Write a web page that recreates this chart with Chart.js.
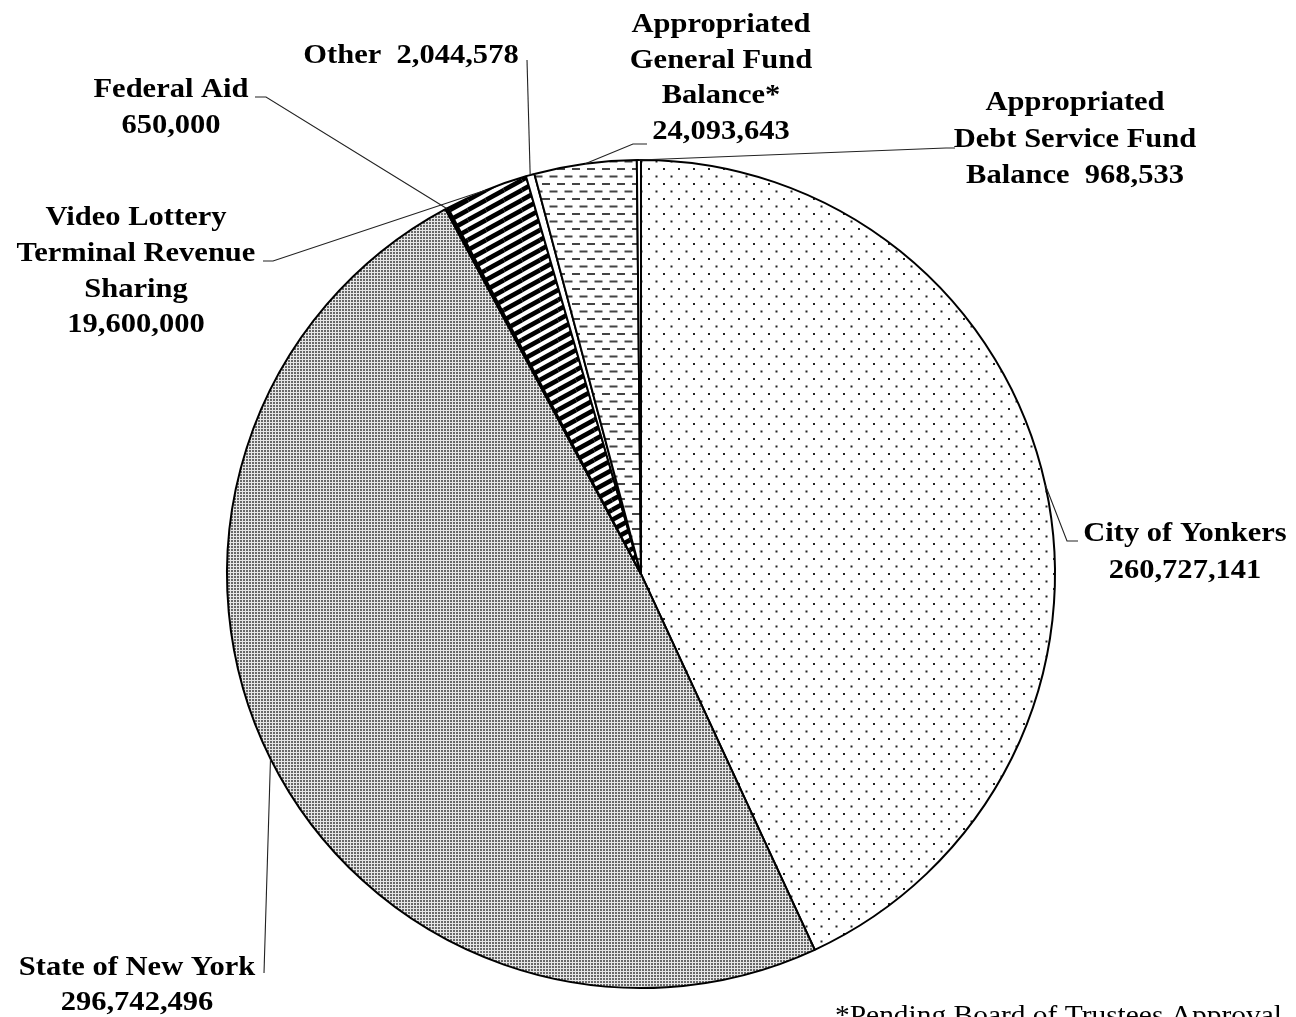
<!DOCTYPE html>
<html>
<head>
<meta charset="utf-8">
<script src="https://cdn.jsdelivr.net/npm/chart.js@4.4.1/dist/chart.umd.min.js"></script>
<style>
  body { margin: 0; background: #fff; }
  canvas { display: block; }
</style>
</head>
<body>
<canvas id="pie" width="1296" height="1017"></canvas>
<script>
// revenue sources, clockwise from 12 o'clock
const categories = [
    "City of Yonkers",
    "State of New York",
    "Federal Aid",
    "Video Lottery Terminal Revenue Sharing",
    "Other",
    "Appropriated General Fund Balance*",
    "Appropriated Debt Service Fund Balance"
];
const amounts = [260727141, 296742496, 650000, 19600000, 2044578, 24093643, 968533];
const footnote = "*Pending Board of Trustees Approval";

// label layout: text lines ({v} = amount), centre x, baselines, leader points from the text
const labelLayout = [
    { lines: ["City of Yonkers", "{v}"], cx: 1185, ys: [541, 578], leader: [[1078, 541], [1067, 541]] },
    { lines: ["State of New York", "{v}"], cx: 137, ys: [975, 1010], leader: [[264, 973]] },
    { lines: ["Federal Aid", "{v}"], cx: 171, ys: [97, 133], leader: [[255, 97], [266, 97]] },
    { lines: ["Video Lottery", "Terminal Revenue", "Sharing", "{v}"], cx: 136, ys: [225, 261, 297, 332], leader: [[263, 261], [273, 261]] },
    { lines: ["Other  {v}"], cx: 411, ys: [63], leader: [[527, 60]] },
    { lines: ["Appropriated", "General Fund", "Balance*", "{v}"], cx: 721, ys: [32, 67.5, 103, 138.5], leader: [[647, 144], [633, 144]] },
    { lines: ["Appropriated", "Debt Service Fund", "Balance  {v}"], cx: 1075, ys: [110, 146.5, 183], leader: [[955, 148], [946, 148]] }
];

function makePattern(w, h, draw) {
    const c = document.createElement("canvas");
    c.width = w;
    c.height = h;
    const g = c.getContext("2d");
    g.fillStyle = "#fff";
    g.fillRect(0, 0, w, h);
    draw(g);
    return document.getElementById("pie").getContext("2d").createPattern(c, "repeat");
}

const sparseDots = makePattern(15, 15, g => {
    g.fillStyle = "#222";
    g.fillRect(3, 3, 2, 2);
    g.fillRect(10.5, 10.5, 2, 2);
});

const denseDots = makePattern(3, 3, g => {
    g.fillStyle = "#e6e6e6";
    g.fillRect(0, 0, 3, 3);
    g.fillStyle = "#686868";
    g.fillRect(0, 0, 2, 2);
});

const stripes = makePattern(18, 10, g => {
    g.strokeStyle = "#000";
    g.lineWidth = 4.6;
    [[-18, 0], [0, 0], [18, 0], [0, -10], [0, 10]].forEach(([dx, dy]) => {
        g.beginPath();
        g.moveTo(dx, 10 + dy);
        g.lineTo(18 + dx, dy);
        g.stroke();
    });
});

const dashes = makePattern(15, 15, g => {
    g.fillStyle = "#444";
    g.fillRect(2, 3, 8, 2);
    g.fillRect(9.5, 10.5, 8, 2);
    g.fillRect(-5.5, 10.5, 8, 2);
});

const fills = [sparseDots, denseDots, "#000", stripes, "#fff", dashes, "#fff"];

const labelPlugin = {
    id: "pieLabels",
    afterDraw(chart) {
        const ctx = chart.ctx;
        const arcs = chart.getDatasetMeta(0).data;
        ctx.save();
        ctx.fillStyle = "#000";
        ctx.textAlign = "center";
        ctx.textBaseline = "alphabetic";
        ctx.font = "bold 28px 'Liberation Serif', 'Times New Roman', serif";
        labelLayout.forEach((lab, i) => {
            const value = amounts[i].toLocaleString("en-US");
            lab.lines.forEach((line, j) => {
                ctx.save();
                ctx.translate(lab.cx, lab.ys[j]);
                ctx.scale(1.09, 1);
                ctx.fillText(line.replace("{v}", value), 0, 0);
                ctx.restore();
            });
            // leader to the middle of the slice on its outer edge
            const a = arcs[i];
            const mid = (a.startAngle + a.endAngle) / 2;
            const ex = a.x + Math.cos(mid) * a.outerRadius;
            const ey = a.y + Math.sin(mid) * a.outerRadius;
            ctx.beginPath();
            ctx.strokeStyle = "#222";
            ctx.lineWidth = 1.1;
            ctx.moveTo(lab.leader[0][0], lab.leader[0][1]);
            lab.leader.slice(1).forEach(p => ctx.lineTo(p[0], p[1]));
            ctx.lineTo(ex, ey);
            ctx.stroke();
        });
        ctx.font = "27px 'Liberation Serif', 'Times New Roman', serif";
        ctx.textAlign = "left";
        ctx.save();
        ctx.translate(835, 1024);
        ctx.scale(1.09, 1);
        ctx.fillText(footnote, 0, 0);
        ctx.restore();
        ctx.restore();
    }
};

new Chart(document.getElementById("pie"), {
    type: "pie",
    data: {
        labels: categories,
        datasets: [{
            data: amounts,
            backgroundColor: fills,
            borderColor: "#000",
            borderWidth: 2,
            radius: 414
        }]
    },
    options: {
        responsive: false,
        animation: false,
        layout: {
            padding: { left: 227, right: 241, top: 160, bottom: 29 }
        },
        plugins: {
            legend: { display: false },
            tooltip: { enabled: false }
        }
    },
    plugins: [labelPlugin]
});
</script>
</body>
</html>
